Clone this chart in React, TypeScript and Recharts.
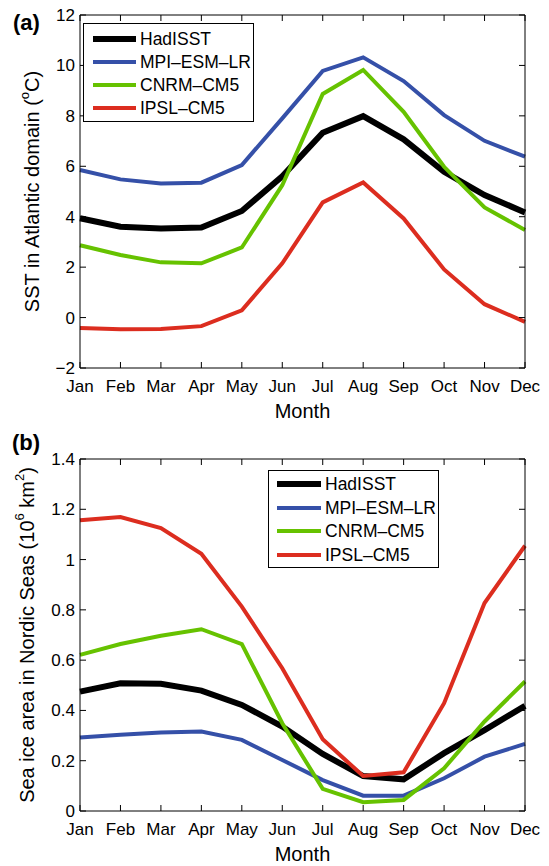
import React from 'react';
import { LineChart, Line, XAxis, YAxis, Legend } from 'recharts';

const months = ['Jan', 'Feb', 'Mar', 'Apr', 'May', 'Jun', 'Jul', 'Aug', 'Sep', 'Oct', 'Nov', 'Dec'];

const seriesNames = ['HadISST', 'MPI\u2013ESM\u2013LR', 'CNRM\u2013CM5', 'IPSL\u2013CM5'];
const seriesKeys = ['had', 'mpi', 'cnrm', 'ipsl'];
const seriesColors = ['#000000', '#3550A8', '#66C200', '#DC2D1F'];
const seriesWidths = [6, 4, 4, 4];

const sstHadISST = [3.94, 3.6, 3.53, 3.57, 4.23, 5.6, 7.33, 7.99, 7.07, 5.78, 4.86, 4.17];
const sstMPI = [5.85, 5.48, 5.32, 5.35, 6.05, 7.9, 9.78, 10.32, 9.38, 8.03, 7.01, 6.38];
const sstCNRM = [2.87, 2.48, 2.19, 2.15, 2.78, 5.25, 8.87, 9.82, 8.16, 5.98, 4.37, 3.47];
const sstIPSL = [-0.41, -0.46, -0.45, -0.34, 0.29, 2.15, 4.57, 5.36, 3.93, 1.91, 0.53, -0.17];

const iceHadISST = [0.475, 0.508, 0.506, 0.479, 0.422, 0.336, 0.227, 0.139, 0.126, 0.23, 0.322, 0.418];
const iceMPI = [0.292, 0.303, 0.312, 0.316, 0.283, 0.203, 0.123, 0.061, 0.061, 0.13, 0.216, 0.267];
const iceCNRM = [0.621, 0.664, 0.697, 0.723, 0.664, 0.349, 0.088, 0.035, 0.044, 0.17, 0.356, 0.515];
const iceIPSL = [1.156, 1.169, 1.125, 1.023, 0.813, 0.568, 0.285, 0.139, 0.154, 0.429, 0.827, 1.055];

const sstTicks = [-2, 0, 2, 4, 6, 8, 10, 12];
const iceTicks = [0, 0.2, 0.4, 0.6, 0.8, 1, 1.2, 1.4];

const FONT = '"Liberation Sans", Arial, Helvetica, sans-serif';

const sstData = months.map((m, i) => ({ month: m, had: sstHadISST[i], mpi: sstMPI[i], cnrm: sstCNRM[i], ipsl: sstIPSL[i] }));
const iceData = months.map((m, i) => ({ month: m, had: iceHadISST[i], mpi: iceMPI[i], cnrm: iceCNRM[i], ipsl: iceIPSL[i] }));

const fmtMinus = (v: any) => String(v).replace('-', '\u2212');
const NoTick = () => <g />;

const XLabel = (props: any) => {
  const vb = props.viewBox || { x: 80, y: 368, width: 445, height: 50 };
  const cx = vb.x + vb.width / 2;
  return (
    <text x={cx} y={vb.y + 50} textAnchor="middle" fontSize={20} fill="#000" fontFamily={FONT}>
      Month
    </text>
  );
};

const YLabelSST = (props: any) => {
  const vb = props.viewBox || { x: 0, y: 15, width: 80, height: 353 };
  const cx = 32;
  const cy = vb.y + vb.height / 2;
  return (
    <text x={cx} y={cy} transform={`rotate(-90 ${cx} ${cy})`} textAnchor="middle" dominantBaseline="central" fontSize={20} fill="#000" fontFamily={FONT}>
      SST in Atlantic domain (<tspan dy={-8} fontSize={13}>o</tspan><tspan dy={8}>C)</tspan>
    </text>
  );
};

const YLabelIce = (props: any) => {
  const vb = props.viewBox || { x: 0, y: 26, width: 80, height: 352 };
  const cx = 27;
  const cy = vb.y + vb.height / 2;
  return (
    <text x={cx} y={cy} transform={`rotate(-90 ${cx} ${cy})`} textAnchor="middle" dominantBaseline="central" fontSize={20} fill="#000" fontFamily={FONT}>
      Sea ice area in Nordic Seas (10<tspan dy={-8} fontSize={13}>6</tspan><tspan dy={8}> km</tspan><tspan dy={-8} fontSize={13}>2</tspan><tspan dy={8}>)</tspan>
    </text>
  );
};

const makeLegend = (rowCenters: number[], lineLeft: number, lineWidth: number, textLeft: number, w: number, h: number) => () => (
  <div style={{ position: 'relative', width: w, height: h, border: '1.5px solid #000', boxSizing: 'border-box', background: '#fff', fontFamily: FONT }}>
    {seriesNames.map((name, i) => (
      <div key={name} style={{ position: 'absolute', left: 0, top: rowCenters[i] - 12, height: 24, width: w }}>
        <div style={{ position: 'absolute', left: lineLeft, top: 12 - seriesWidths[i] / 2, width: lineWidth, height: seriesWidths[i], background: seriesColors[i] }} />
        <div style={{ position: 'absolute', left: textLeft, top: 0, height: 24, lineHeight: '24px', fontSize: 17.5, color: '#000', whiteSpace: 'nowrap' }}>{name}</div>
      </div>
    ))}
  </div>
);

const LegendA = makeLegend([14.5, 37.5, 60.8, 84.2], 9, 43, 56, 171, 99);
const LegendB = makeLegend([12.5, 37, 60.3, 83.6], 8, 44, 56, 171, 98);

function Panel(props: any) {
  const { data, ticks, domain, marginTop, xHeight, marginBottom, yLabel, legend, legendPos } = props;
  return (
    <LineChart width={549} height={433} data={data} margin={{ top: marginTop - 1, right: 23, bottom: marginBottom, left: 0 }}>
      <XAxis
        xAxisId="b"
        dataKey="month"
        height={xHeight}
        interval={0}
        tickSize={-6}
        tickMargin={18}
        stroke="#000"
        tick={{ fontSize: 17, fill: '#000', fontFamily: FONT }}
        label={<XLabel />}
      />
      <XAxis xAxisId="t" dataKey="month" orientation="top" height={1} interval={0} tickSize={-6} stroke="#000" tick={<NoTick />} />
      <YAxis
        yAxisId="l"
        width={80}
        domain={domain}
        ticks={ticks}
        interval={0}
        tickSize={-6}
        tickMargin={11}
        stroke="#000"
        allowDataOverflow
        tickFormatter={fmtMinus}
        tick={{ fontSize: 17, fill: '#000', fontFamily: FONT }}
        label={yLabel}
      />
      <YAxis yAxisId="r" orientation="right" width={1} domain={domain} ticks={ticks} interval={0} tickSize={-6} stroke="#000" tick={<NoTick />} allowDataOverflow />
      <Legend layout="vertical" align="center" verticalAlign="middle" content={legend} wrapperStyle={{ left: legendPos[0], top: legendPos[1], width: 'auto', height: 'auto' }} />
      {seriesKeys.map((k, i) => (
        <Line
          key={k}
          xAxisId="b"
          yAxisId="l"
          type="linear"
          dataKey={k}
          name={seriesNames[i]}
          stroke={seriesColors[i]}
          strokeWidth={seriesWidths[i]}
          dot={false}
          activeDot={false}
          isAnimationActive={false}
        />
      ))}
    </LineChart>
  );
}

export default function App() {
  const panelLabel = { position: 'absolute' as const, fontFamily: FONT, fontWeight: 'bold' as const, fontSize: 22, lineHeight: '22px', color: '#000' };
  return (
    <div style={{ position: 'absolute', left: 0, top: 0, width: 549, height: 866, background: '#fff', fontFamily: FONT }}>
      <div style={{ position: 'absolute', left: 0, top: 0 }}>
        <Panel data={sstData} ticks={sstTicks} domain={[-2, 12]} marginTop={15} xHeight={50} marginBottom={15} yLabel={<YLabelSST />} legend={LegendA} legendPos={[83, 23]} />
      </div>
      <div style={{ position: 'absolute', left: 0, top: 433 }}>
        <Panel data={iceData} ticks={iceTicks} domain={[0, 1.4]} marginTop={26} xHeight={45} marginBottom={10} yLabel={<YLabelIce />} legend={LegendB} legendPos={[268, 37]} />
      </div>
      <div style={{ ...panelLabel, left: 13, top: 12 }}>(a)</div>
      <div style={{ ...panelLabel, left: 12, top: 432 }}>(b)</div>
    </div>
  );
}
